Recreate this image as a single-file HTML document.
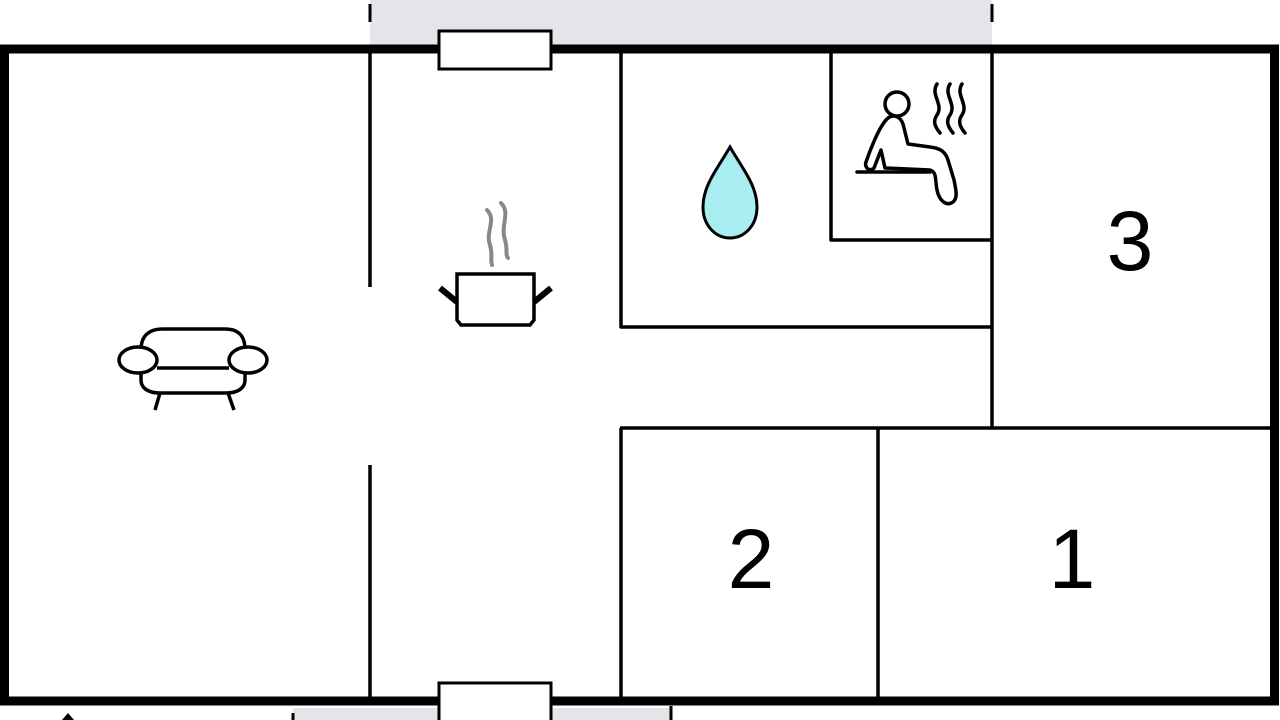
<!DOCTYPE html>
<html><head><style>html,body{margin:0;padding:0;background:#fff;width:1280px;height:720px;overflow:hidden}</style></head>
<body>
<svg width="1280" height="720" xmlns="http://www.w3.org/2000/svg">
<rect x="370" y="0" width="622" height="45" fill="#e5e5e9"/>
<rect x="293" y="708" width="377" height="12" fill="#e5e5e9"/>
<line x1="370" y1="4" x2="370" y2="22" stroke="#000" stroke-width="3"/>
<line x1="992" y1="4" x2="992" y2="22" stroke="#000" stroke-width="3"/>
<line x1="293" y1="713" x2="293" y2="720" stroke="#000" stroke-width="3"/>
<line x1="671" y1="706" x2="671" y2="720" stroke="#000" stroke-width="3"/>
<polygon points="68,713 62,720 74,720" fill="#000"/>
<rect x="4.5" y="49" width="1270" height="652" fill="none" stroke="#000" stroke-width="9"/>
<g stroke="#000" stroke-width="3.5" fill="none">
<line x1="370" y1="52" x2="370" y2="287"/>
<line x1="370" y1="465" x2="370" y2="697"/>
<line x1="621" y1="52" x2="621" y2="328"/>
<line x1="620" y1="327" x2="992" y2="327"/>
<line x1="992" y1="52" x2="992" y2="428"/>
<line x1="831" y1="52" x2="831" y2="241"/>
<line x1="830" y1="240" x2="992" y2="240"/>
<line x1="620" y1="428" x2="1270" y2="428"/>
<line x1="621" y1="428" x2="621" y2="697"/>
<line x1="878" y1="428" x2="878" y2="697"/>
</g>
<rect x="439" y="31" width="112" height="38" fill="#fff" stroke="#000" stroke-width="3"/>
<rect x="439" y="683" width="112" height="40" fill="#fff" stroke="#000" stroke-width="3"/>
<g font-family="Liberation Sans, sans-serif" font-size="84" fill="#000" text-anchor="middle">
<text x="1130" y="270">3</text>
<text x="751" y="588">2</text>
<text x="1072" y="588">1</text>
</g>
<path d="M730,147 C718,168 703,185 703,207 C703,226 716,238 730,238 C744,238 757,226 757,207 C757,185 742,168 730,147 Z" fill="#a8eef0" stroke="#000" stroke-width="3"/>
<g stroke="#888" stroke-width="4" fill="none" stroke-linecap="round">
<path d="M487,210 C497,220 485,232 490,245 C493,255 490,260 492,265"/>
<path d="M501,203 C511,213 500,225 505,240 C508,250 505,255 508,258"/>
</g>
<path d="M457,274 L534,274 L534,320 L530,325 L461,325 L457,320 Z" fill="#fff" stroke="#000" stroke-width="3.5"/>
<line x1="440" y1="288" x2="457" y2="302" stroke="#000" stroke-width="6"/>
<line x1="551" y1="288" x2="534" y2="302" stroke="#000" stroke-width="6"/>
<g stroke="#000" stroke-width="3.5" fill="#fff">
<path d="M141,350 C141,335 150,329 162,329 L225,329 C238,329 245,335 245,350"/>
<path d="M141,365 L141,380 C141,388 148,393 160,393 L226,393 C238,393 245,388 245,380 L245,365"/>
<line x1="157" y1="368" x2="229" y2="368"/>
<ellipse cx="138" cy="360" rx="19" ry="13"/>
<ellipse cx="248" cy="360" rx="19" ry="13"/>
<line x1="160" y1="393" x2="155" y2="410"/>
<line x1="228" y1="393" x2="234" y2="410"/>
</g>
<g stroke="#000" stroke-width="3.5" fill="none" stroke-linecap="round" stroke-linejoin="round">
<circle cx="897" cy="104" r="12"/>
<path d="M888,118 C880,125 872,145 866,162 C864,168 870,172 874,168 L881,150 L885,168 L930,170 C937,172 935,180 937,190 C939,200 946,207 953,202 C958,198 956,190 954,180 L948,160 C945,150 938,148 930,147 L908,144 L903,124 C900,116 893,114 888,118 Z"/>
<line x1="857" y1="172" x2="930" y2="172"/>
<path d="M937,84 C930,95 944,104 937,115 C932,122 936,128 940,133"/>
<path d="M950,84 C943,95 957,104 950,115 C945,122 949,128 953,133"/>
<path d="M962,84 C955,95 969,104 962,115 C957,122 961,128 965,133"/>
</g>
</svg>
</body></html>
